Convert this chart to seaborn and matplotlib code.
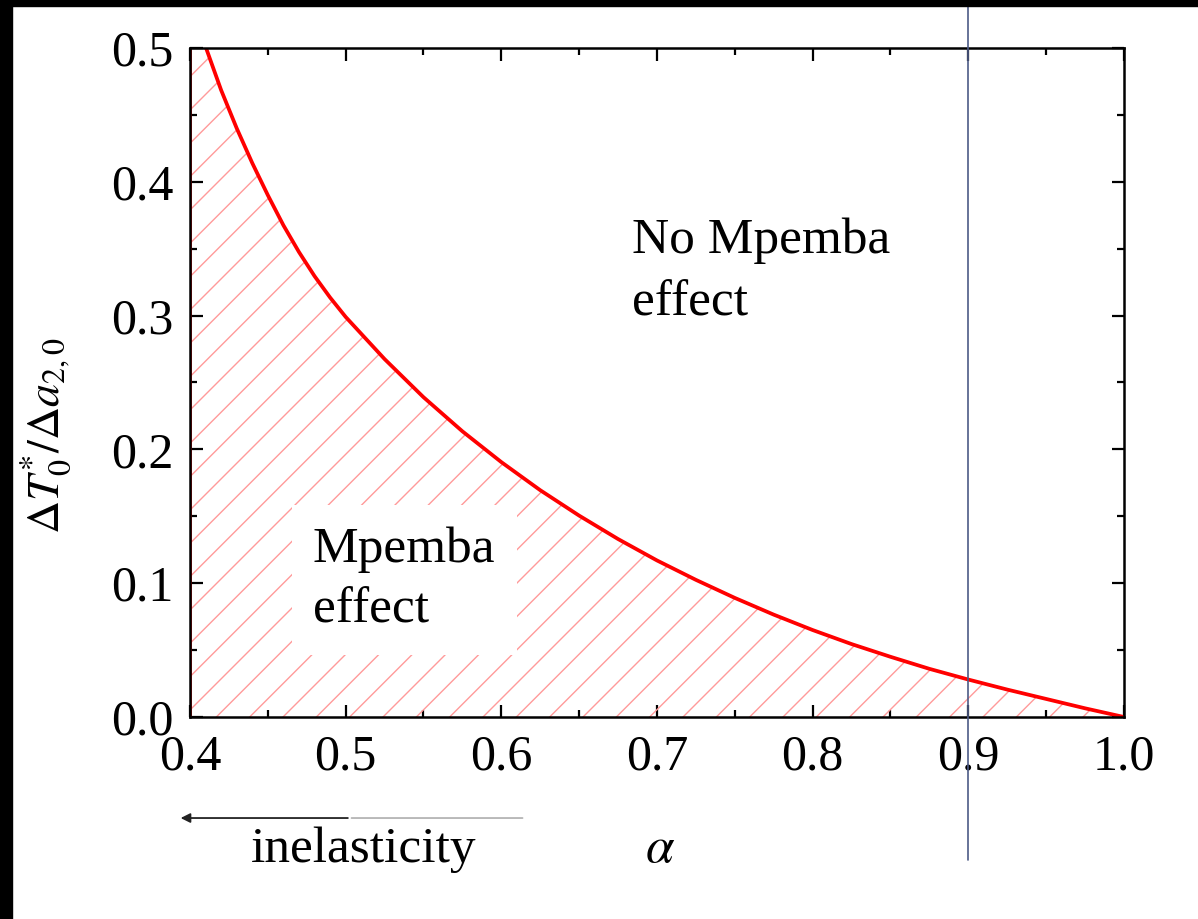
import matplotlib
matplotlib.use("Agg")
import matplotlib.pyplot as plt
from matplotlib.patches import Rectangle
import seaborn as sns
import pandas as pd

# Threshold curve separating the Mpemba / no-Mpemba regions
alpha = [0.400, 0.410, 0.420, 0.430, 0.440, 0.450, 0.460, 0.470, 0.480,
         0.490, 0.500, 0.525, 0.550, 0.575, 0.600, 0.625, 0.650, 0.675,
         0.700, 0.725, 0.750, 0.775, 0.800, 0.825, 0.850, 0.875, 0.900,
         0.925, 0.950, 0.975, 1.000]
threshold = [0.5380, 0.5010, 0.4685, 0.4400, 0.4140, 0.3900, 0.3675,
             0.3475, 0.3295, 0.3135, 0.2990, 0.2675, 0.2390, 0.2135,
             0.1905, 0.1695, 0.1505, 0.1330, 0.1170, 0.1025, 0.0890,
             0.0765, 0.0650, 0.0545, 0.0450, 0.0360, 0.0280, 0.0205,
             0.0135, 0.0065, 0.0000]

x_ticks = [0.4, 0.5, 0.6, 0.7, 0.8, 0.9, 1.0]
y_ticks = [0.0, 0.1, 0.2, 0.3, 0.4, 0.5]
alpha_marker = 0.9

sns.set_theme(style="ticks")
plt.rcParams["font.family"] = ["Liberation Serif", "DejaVu Serif"]
plt.rcParams["mathtext.fontset"] = "stix"
plt.rcParams["hatch.linewidth"] = 1.0
plt.rcParams["text.color"] = "black"
plt.rcParams["axes.labelcolor"] = "black"

df = pd.DataFrame({"alpha": alpha, "threshold": threshold})

fig = plt.figure(figsize=(11.98, 9.19), dpi=100)
fig.patch.set_facecolor("white")
ax = fig.add_axes([0.1586, 0.2198, 0.7796, 0.7280])

# hatched Mpemba region under the curve
ax.fill_between(df["alpha"], 0, df["threshold"], facecolor="none",
                edgecolor="#ff9a9a", hatch="/", linewidth=0, zorder=1)
ax.plot([df["alpha"].iloc[0]] * 2, [0, df["threshold"].iloc[0]],
        color="red", lw=2.0, zorder=2)
sns.lineplot(data=df, x="alpha", y="threshold", color="red", lw=2.7,
             ax=ax, zorder=3)

ax.set_xlim(0.4, 1.0)
ax.set_ylim(0.0, 0.5)
ax.set_xticks(x_ticks)
ax.set_yticks(y_ticks)
ax.set_xticklabels([f"{v:.1f}" for v in x_ticks])
ax.set_yticklabels([f"{v:.1f}" for v in y_ticks])
ax.set_xticks([0.45, 0.55, 0.65, 0.75, 0.85, 0.95], minor=True)
ax.set_yticks([0.05, 0.15, 0.25, 0.35, 0.45], minor=True)
ax.tick_params(which="both", direction="in", top=True, right=True,
               color="black", width=1.6, labelsize=36, labelcolor="black")
ax.tick_params(which="major", length=9)
ax.tick_params(which="minor", length=5)
ax.tick_params(axis="x", which="major", pad=12)
ax.tick_params(axis="y", which="major", pad=12)
for s in ax.spines.values():
    s.set_linewidth(1.8)
    s.set_color("black")
    s.set_zorder(4)

ax.set_xlabel("")
ax.set_ylabel(r"$\Delta T_0^{*}/\Delta a_{2,0}$", fontsize=33)
ax.yaxis.set_label_coords(-0.125, 0.42)

# vertical marker at alpha = 0.9, running past the frame
ax.axvline(alpha_marker, ymin=-0.214, ymax=1.08, color="#4d5b86", lw=1.2,
           clip_on=False, zorder=5)

# region labels
ax.text(0.684, 0.3468, "No Mpemba", fontsize=37, va="baseline", ha="left")
ax.text(0.684, 0.3004, "effect", fontsize=37, va="baseline", ha="left")
ax.text(0.479, 0.0703, "Mpemba\neffect", fontsize=37, va="baseline",
        ha="left", linespacing=1.42, zorder=3,
        bbox=dict(facecolor="white", edgecolor="none", pad=15))

# direction of increasing inelasticity
ax.annotate("", xy=(0.17, -0.151), xytext=(0.359, -0.151),
            xycoords="axes fraction", textcoords="axes fraction",
            arrowprops=dict(arrowstyle="-", color="#b4b4b4", lw=1.3))
ax.annotate("", xy=(-0.013, -0.151), xytext=(0.172, -0.151),
            xycoords="axes fraction", textcoords="axes fraction",
            arrowprops=dict(arrowstyle="-|>", color="#222222", lw=1.3,
                            mutation_scale=14))
ax.text(0.186, -0.217, "inelasticity", fontsize=37, ha="center",
        va="baseline", transform=ax.transAxes)
ax.text(0.503, -0.217, r"$\alpha$", fontsize=37, ha="center",
        va="baseline", transform=ax.transAxes)

# dark frame along the top and left edges
fig.patches.append(Rectangle((0, 0), 12 / 1198, 1, transform=fig.transFigure,
                             color="black", zorder=10))
fig.patches.append(Rectangle((0, 1 - 6 / 919), 1, 6 / 919,
                             transform=fig.transFigure, color="black",
                             zorder=10))

fig.savefig("out.png", dpi=100)
